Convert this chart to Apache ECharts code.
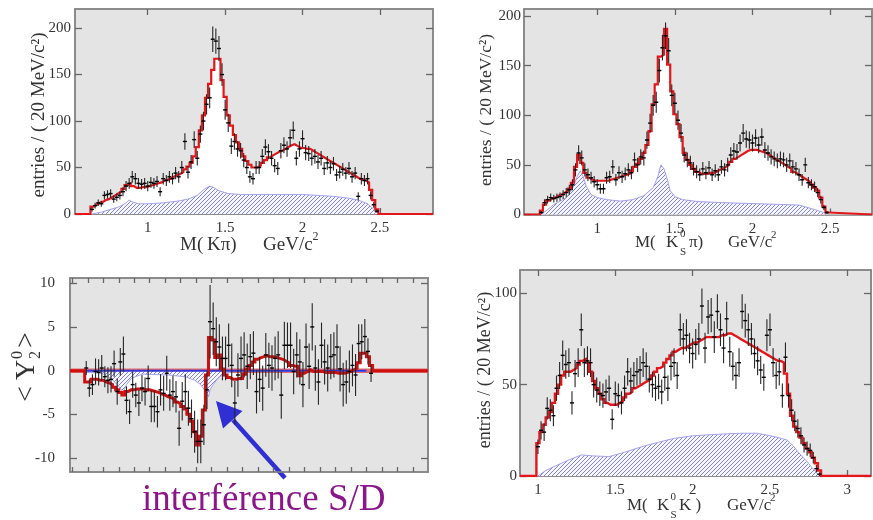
<!DOCTYPE html>
<html>
<head>
<meta charset="utf-8">
<script src="https://cdn.jsdelivr.net/npm/echarts@6/dist/echarts.min.js"></script>
<style>
  html, body { margin: 0; background: #fff; }
  #chart { width: 873px; height: 520px; }
</style>
</head>
<body>
<div id="chart"></div>
<script>
// all histograms use 20 MeV bins
const binW = 0.02

// top left: M(K pi), first bin starts at 0.63
const kpiStart = 0.63
const kpiData = [5, 9, 12, 11, 20, 21, 22, 16, 18, 20,
  24, 30, 33, 40, 38, 33, 32, 33, 30, 34,
  33, 35, 24, 38, 36, 40, 38, 44, 40, 50,
  78, 45, 56, 80, 60, 86, 100, 118, 125, 188,
  186, 178, 150, 112, 98, 73, 78, 70, 68, 58,
  50, 40, 38, 50, 50, 62, 72, 67, 60, 52,
  49, 68, 74, 70, 82, 90, 60, 70, 81, 66,
  65, 60, 62, 56, 60, 49, 55, 50, 54, 42,
  45, 48, 44, 49, 40, 44, 19, 38, 36, 38,
  20, 10, 3]
const kpiFit = [8, 10, 12, 13, 15, 16, 18, 20, 22, 24,
  27, 31, 33, 30, 28, 28, 29, 29, 30, 31,
  32, 33, 34, 36, 37, 38, 40, 42, 43, 45,
  48, 51, 55, 62, 72, 90, 106, 125, 140, 155,
  167, 167, 144, 126, 106, 95, 85, 77, 70, 62,
  57, 53, 50, 50, 52, 55, 58, 61, 63, 65,
  67, 68, 70, 72, 74, 75, 73, 71, 71, 70,
  70, 68, 66, 64, 62, 60, 58, 56, 54, 52,
  50, 48, 46, 44, 42, 40, 38, 37, 36, 34,
  26, 15, 5]
const kpiBgMass = [0.64, 0.70, 0.76, 0.82, 0.86, 0.88, 0.90, 0.94, 1.00, 1.10, 1.20, 1.26, 1.32, 1.36,
  1.40, 1.42, 1.46, 1.52, 1.60, 1.80, 2.00, 2.10, 2.20, 2.30, 2.36, 2.42, 2.46, 2.50]
const kpiBg = [0, 2, 5, 8, 12, 15, 13, 11, 11, 12, 14, 16, 20, 26,
  30, 29, 25, 22, 21, 21, 21, 20, 19, 17, 15, 11, 5, 0]

// top right: M(K0s pi)
const k0piStart = 0.63
const k0piData = [2, 12, 15, 17, 16, 17, 18, 20, 22, 25,
  30, 45, 62, 57, 45, 40, 37, 33, 30, 26,
  26, 37, 38, 48, 35, 42, 38, 41, 45, 42,
  55, 50, 58, 57, 75, 92, 110, 113, 145, 168,
  180, 165, 120, 112, 95, 82, 60, 55, 52, 46,
  43, 40, 46, 42, 47, 40, 44, 40, 48, 45,
  50, 60, 64, 63, 72, 82, 76, 75, 72, 77,
  70, 78, 65, 62, 58, 56, 54, 56, 55, 50,
  54, 48, 46, 40, 35, 50, 32, 30, 28, 22,
  15, 7, 2]
const k0piFit = [4, 10, 14, 16, 17, 19, 20, 22, 23, 26,
  32, 48, 60, 52, 42, 37, 35, 34, 34, 34,
  34, 34, 35, 36, 37, 38, 39, 40, 41, 44,
  48, 51, 56, 62, 70, 84, 111, 131, 159, 161,
  187, 151, 124, 101, 91, 78, 62, 55, 50, 46,
  43, 41, 41, 41, 42, 42, 43, 45, 46, 48,
  50, 53, 56, 58, 60, 62, 64, 65, 65, 65,
  64, 63, 62, 60, 58, 56, 54, 52, 50, 48,
  46, 43, 41, 39, 37, 35, 33, 30, 27, 24,
  17, 8, 2]
const k0piBgMass = [0.64, 0.72, 0.80, 0.84, 0.87, 0.89, 0.91, 0.93, 0.96, 1.00, 1.06, 1.15, 1.23, 1.30, 1.36,
  1.39, 1.41, 1.43, 1.45, 1.47, 1.50, 1.55, 1.65, 1.80, 2.00, 2.20, 2.30, 2.40, 2.46, 2.49]
const k0piBg = [0, 10, 17, 26, 38, 44, 38, 28, 20, 17, 15, 13.5, 15, 19, 27,
  38, 50, 46, 36, 24, 18, 15, 13, 12, 11, 10, 9.5, 5, 2, 0]

// bottom left: <Y02> moment vs M(K pi)
const y02Start = 0.63
const y02Data = [0.3, -2.0, -1.6, -0.1, -0.2, 0.3, -0.7, -1.1, -1.0, 0.8,
  -2.4, 1.0, 1.9, -3.4, -4.7, -1.6, -2.8, -3.7, -2.0, -2.4,
  -0.9, -4.1, -4.1, -4.7, -2.2, -2.6, -0.3, -2.8, -2.4, -3.0,
  -6.6, -3.5, -2.4, -4.3, -5.5, -7.0, -8.1, -8.1, -6.2, -2.2,
  5.6, 4.8, 3.3, 2.7, 1.4, 1.4, 2.9, 0.6, -3.7, -0.5,
  1.4, 1.8, 0.5, 1.6, 2.0, -2.4, -1.0, -2.0, 1.8, 0.6,
  0.3, 1.4, 1.8, -2.8, 2.9, 2.9, 2.9, -0.1, 1.8, 1.0,
  -1.6, 2.7, 0.5, 5.0, 0.3, -1.3, 2.9, 1.0, 0.3, 1.6,
  1.8, 2.7, 0.2, -1.6, -1.3, -0.1, 0.6, -0.5, 3.1, 3.3,
  3.9, 2.2, -0.3]
const y02Err = [0.8, 1.0, 1.2, 1.5, 1.5, 1.5, 1.2, 1.5, 1.5, 1.5,
  1.5, 1.6, 2.0, 1.6, 1.4, 1.5, 1.4, 1.5, 1.5, 1.6,
  1.5, 1.8, 1.8, 1.8, 1.8, 2.0, 2.0, 1.8, 1.8, 1.8,
  2.0, 2.2, 2.0, 2.0, 2.2, 2.4, 2.5, 2.5, 2.3, 2.2,
  4.2, 3.0, 2.8, 2.6, 2.5, 2.5, 2.5, 2.5, 2.5, 2.5,
  2.5, 2.6, 2.6, 2.6, 2.5, 2.5, 2.6, 2.6, 2.5, 2.6,
  2.6, 2.5, 2.7, 2.7, 2.7, 2.6, 2.6, 2.6, 2.6, 2.6,
  2.6, 2.7, 2.6, 2.7, 2.6, 2.6, 2.6, 2.6, 2.7, 2.6,
  2.6, 2.6, 2.6, 2.5, 2.5, 2.4, 2.4, 2.4, 2.2, 2.0,
  2.0, 1.5, 1.0]
const y02Fit = [-1.3, -1.3, -1.0, -1.0, -1.1, -1.1, -1.3, -1.4, -1.6, -1.9,
  -2.2, -2.5, -2.8, -2.4, -2.2, -2.2, -2.1, -2.1, -2.1, -2.2,
  -2.2, -2.3, -2.4, -2.5, -2.7, -2.8, -3.0, -3.1, -3.3, -3.6,
  -3.8, -4.1, -4.4, -5.0, -5.8, -7.0, -8.5, -7.5, -4.5, -0.5,
  3.8, 3.5, 1.5, 1.8, 0.2, -0.5, -0.8, -1.0, -1.0, -0.9,
  -0.9, -0.4, 0.2, 0.6, 1.0, 1.3, 1.5, 1.6, 1.7, 1.6,
  1.6, 1.5, 1.4, 1.3, 1.1, 0.9, 0.6, 0.5, 0.5, -0.6,
  -0.3, -0.1, 0.1, -0.1, -0.1, -0.1, -0.1, -0.2, -0.2, -0.2,
  -0.2, -0.3, -0.3, -0.3, -0.2, -0.1, 0.1, 0.3, 0.9, 2.0,
  2.0, 1.6, 0.6]
const y02BgMass = [0.64, 0.74, 0.80, 0.84, 0.88, 0.90, 0.93, 1.00, 1.17, 1.28, 1.34, 1.38, 1.41,
  1.43, 1.44, 1.46, 1.49, 1.53, 1.60, 2.00, 2.45]
const y02Bg = [-0.2, -0.3, -0.9, -1.6, -2.5, -1.6, -0.9, -0.4, -0.5, -0.7, -1.1, -1.6, -2.4,
  -3.0, -2.2, -1.6, -0.9, -0.3, -0.1, -0.1, -0.1]
const y02BgRange = [0.64, 2.45]

// bottom right: M(K0s K)
const k0kStart = 0.99
const k0kData = [16, 25, 24, 37, 36, 33, 48, 55, 66, 61,
  62, 40, 56, 62, 80, 62, 63, 62, 50, 47,
  45, 44, 46, 48, 31, 45, 44, 40, 48, 57,
  52, 55, 57, 58, 62, 60, 53, 50, 48, 49,
  46, 54, 48, 60, 62, 55, 80, 75, 77, 70,
  67, 72, 75, 93, 70, 87, 88, 76, 90, 80,
  70, 86, 68, 60, 55, 62, 90, 85, 80, 75,
  67, 63, 58, 54, 77, 80, 62, 55, 57, 44,
  65, 44, 36, 30, 26, 22, 17, 15, 14, 10,
  4, 1]
const k0kFit = [18, 24, 28, 32, 35, 40, 45, 50, 55, 57,
  57, 58, 59, 61, 63, 64, 62, 57, 52, 48,
  45, 42, 40, 39, 39, 39, 40, 41, 43, 45,
  46, 48, 49, 50, 51, 52, 53, 55, 57, 59,
  60, 62, 64, 66, 68, 69, 70, 70, 71, 72,
  73, 73, 74, 75, 76, 76, 76, 76, 76, 77,
  77, 78, 78, 77, 76, 75, 74, 73, 72, 71,
  70, 69, 68, 67, 66, 65, 64, 63, 63, 62,
  56, 45, 33, 27, 24, 21, 18, 15, 13, 10,
  7, 3]
const k0kBgMass = [1.00, 1.05, 1.10, 1.20, 1.28, 1.36, 1.46, 1.56, 1.67, 1.78, 1.88, 2.00,
  2.10, 2.20, 2.31, 2.42, 2.53, 2.61, 2.65, 2.68, 2.74, 2.785, 2.82]
const k0kBg = [0, 3, 5, 8.8, 11.5, 11, 10.6, 13, 16, 18.5, 20.6, 22,
  22.5, 23, 23.4, 23.4, 21.5, 19.7, 16.5, 13.3, 7.8, 3.3, 0]

// tick positions and labels
const massTicks = [1, 1.5, 2, 2.5]
const massTicksK = [1, 1.5, 2, 2.5, 3]
const entriesTicks = [0, 50, 100, 150, 200]
const entriesTicksK = [0, 50, 100]
const y02Ticks = [-10, -5, 0, 5, 10]
const minorTicks = []
for (let t = 0.55; t < 2.85; t += 0.1) minorTicks.push(+t.toFixed(2))

const serif = '"Liberation Serif", "Times New Roman", serif'
const txtColor = '#333'
const frameColor = '#858585'

function hatchPattern() {
  const c = document.createElement('canvas')
  c.width = 4
  c.height = 4
  const ctx = c.getContext('2d')
  ctx.fillStyle = '#f7f7ff'
  ctx.fillRect(0, 0, 4, 4)
  ctx.strokeStyle = '#8282e2'
  ctx.lineWidth = 1
  ctx.beginPath()
  ctx.moveTo(0, 4); ctx.lineTo(4, 0)
  ctx.moveTo(-1, 1); ctx.lineTo(1, -1)
  ctx.moveTo(3, 5); ctx.lineTo(5, 3)
  ctx.stroke()
  return c
}
const hatch = hatchPattern()

// histogram outline as a polyline, zero outside the fitted range
function steps(start, vals, xmin, xmax) {
  const pts = [[xmin, 0], [start, 0]]
  vals.forEach((v, i) => {
    pts.push([start + i * binW, v], [start + (i + 1) * binW, v])
  })
  pts.push([start + vals.length * binW, 0], [xmax, 0])
  return pts
}
function points(start, vals, errs) {
  return vals.map((v, i) => [start + (i + 0.5) * binW, v, errs ? errs[i] : Math.sqrt(Math.max(v, 1))])
}
function pairs(xs, ys) {
  return xs.map((x, i) => [x, ys[i]])
}

function errorBar(params, api) {
  const x = api.value(0), y = api.value(1), e = api.value(2)
  const c = api.coord([x, y])
  const hi = api.coord([x, y + e])
  const lo = api.coord([x, y - e])
  return {
    type: 'group',
    children: [
      { type: 'line', shape: { x1: c[0], y1: hi[1], x2: c[0], y2: lo[1] }, style: { stroke: '#262626', lineWidth: 1.1 } },
      { type: 'line', shape: { x1: c[0] - 2, y1: c[1], x2: c[0] + 2, y2: c[1] }, style: { stroke: '#000', lineWidth: 1.4 } }
    ]
  }
}

const panels = [
  { grid: { left: 75, top: 9, width: 358, height: 205 }, x: [0.53, 2.843], y: [0, 220.5],
    xTicks: massTicks, xLabels: massTicks, xTickLen: 6, yTicks: entriesTicks, yMargin: 4,
    start: kpiStart, data: kpiData, fit: kpiFit, bgX: kpiBgMass, bgY: kpiBg,
    red: '#e3161b', redW: 2.2 },
  { grid: { left: 524, top: 9, width: 348, height: 205.5 }, x: [0.528, 2.77], y: [0, 207],
    xTicks: massTicks, xLabels: massTicks, xTickLen: 6, yTicks: entriesTicks, yMargin: 3,
    start: k0piStart, data: k0piData, fit: k0piFit, bgX: k0piBgMass, bgY: k0piBg,
    red: '#e3161b', redW: 2.2 },
  { grid: { left: 70, top: 278, width: 358, height: 194 }, x: [0.535, 2.848], y: [-11.6, 10.6],
    xTicks: minorTicks, xLabels: [], xTickLen: 5, yTicks: y02Ticks, yMargin: 15,
    start: y02Start, data: y02Data, err: y02Err, fit: y02Fit, bgX: y02BgMass, bgY: y02Bg,
    red: '#cf1010', redW: 3, moment: true },
  { grid: { left: 520, top: 270, width: 351, height: 206 }, x: [0.884, 3.153], y: [0, 112.7],
    xTicks: massTicksK, xLabels: massTicksK, xTickLen: 6, yTicks: entriesTicksK, yMargin: 3,
    start: k0kStart, data: k0kData, fit: k0kFit, bgX: k0kBgMass, bgY: k0kBg,
    red: '#e3161b', redW: 2.4 }
]

const grids = [], xAxes = [], yAxes = [], series = []
panels.forEach((p, g) => {
  grids.push({ ...p.grid, show: true, backgroundColor: '#e4e4e4', borderColor: frameColor, borderWidth: 1.5 })
  const tick = (vals, len) => ({ show: true, inside: true, length: len, customValues: vals,
    lineStyle: { color: '#666', width: 1.3 } })
  const label = (vals, margin) => ({ show: vals.length > 0, customValues: vals, margin: margin,
    color: txtColor, fontFamily: serif, fontSize: 15 })
  const common = { type: 'value', gridIndex: g, splitLine: { show: false },
    axisLine: { show: true, onZero: false, lineStyle: { color: frameColor, width: 1.5 } } }
  xAxes.push(
    { ...common, min: p.x[0], max: p.x[1], position: 'bottom',
      axisTick: tick(p.xTicks, p.xTickLen), axisLabel: label(p.xLabels, 7) },
    { ...common, min: p.x[0], max: p.x[1], position: 'top',
      axisTick: tick(p.xTicks, p.xTickLen), axisLabel: { show: false } }
  )
  yAxes.push(
    { ...common, min: p.y[0], max: p.y[1], position: 'left',
      axisTick: tick(p.yTicks, 7), axisLabel: label(p.yTicks, p.yMargin) },
    { ...common, min: p.y[0], max: p.y[1], position: 'right',
      axisTick: tick(p.yTicks, 7), axisLabel: { show: false } }
  )
  const ax = { xAxisIndex: 2 * g, yAxisIndex: 2 * g }
  const fitPts = steps(p.start, p.fit, p.x[0], p.x[1])
  series.push({ ...ax, type: 'line', data: fitPts, symbol: 'none', silent: true,
    lineStyle: { opacity: 0 }, areaStyle: { color: '#fff', opacity: 1 }, z: 2 })
  if (p.moment) {
    series.push({ ...ax, type: 'line', data: [[p.x[0], 0], [p.x[1], 0]], symbol: 'none', silent: true,
      lineStyle: { color: '#e06c6c', width: 4.5 }, z: 3 })
  }
  series.push({ ...ax, type: 'line', data: pairs(p.bgX, p.bgY), symbol: 'none', silent: true,
    lineStyle: { color: '#a4a4ec', width: 1 },
    areaStyle: { color: { image: hatch, repeat: 'repeat' }, opacity: 1 }, z: 4 })
  if (p.moment) {
    series.push({ ...ax, type: 'line', data: [[y02BgRange[0], 0], [y02BgRange[1], 0]], symbol: 'none', silent: true,
      lineStyle: { color: '#3434d6', width: 2 }, z: 4 })
  }
  series.push({ ...ax, type: 'line', data: fitPts, symbol: 'none', silent: true,
    lineStyle: { color: p.red, width: p.redW, join: 'miter' }, z: 5 })
  series.push({ ...ax, type: 'custom', data: points(p.start, p.data, p.err), renderItem: errorBar,
    encode: { x: 0, y: 1 }, silent: true, clip: true, z: 6 })
})

function txt(x, y, s, size, extra) {
  return { type: 'text', x: x, y: y, silent: true, ...extra,
    style: { text: s, font: size + 'px ' + serif, fill: txtColor, textAlign: 'left', textVerticalAlign: 'middle' } }
}
function yName(x, y, s, size) {
  return { type: 'text', x: x, y: y, rotation: Math.PI / 2, silent: true,
    style: { text: s, font: size + 'px ' + serif, fill: txtColor, textAlign: 'center', textVerticalAlign: 'middle' } }
}

const graphic = [
  // axis titles
  yName(39, 115, 'entries / ( 20 MeV/c²)', 19),
  yName(486, 110, 'entries / ( 20 MeV/c²)', 17.5),
  yName(485, 370, 'entries / ( 20 MeV/c²)', 18),
  txt(180, 245, 'M(', 19), txt(207, 245, 'Kπ)', 19), txt(263, 245, 'GeV/c', 19), txt(312.5, 237, '2', 12),
  txt(635, 243, 'M(', 17), txt(666, 243, 'K', 17), txt(680, 234, '0', 11), txt(680, 252, 'S', 11),
  txt(689, 243, 'π)', 17), txt(728, 243, 'GeV/c', 17), txt(771, 235, '2', 11),
  txt(627, 506, 'M(', 17), txt(657, 506, 'K', 17), txt(670.5, 497, '0', 11), txt(670.5, 515, 'S', 11),
  txt(679, 506, 'K )', 17), txt(727, 506, 'GeV/c', 17), txt(770, 498, '2', 11),
  { type: 'group', x: 25, y: 367, rotation: Math.PI / 2, children: [
    txt(-35, 2, '<', 28), txt(-13, 2, 'Y', 28), txt(8, -7, '0', 16), txt(8, 11, '2', 16), txt(19, 2, '>', 28)
  ] },
  // annotation arrow and label
  { type: 'line', silent: true, shape: { x1: 285, y1: 478, x2: 233, y2: 420 },
    style: { stroke: '#2f2fd4', lineWidth: 4.5 } },
  { type: 'polygon', silent: true, shape: { points: [[216, 401], [242.5, 411], [223, 428.5]] },
    style: { fill: '#2f2fd4' } },
  { type: 'text', x: 142, y: 500, silent: true,
    style: { text: 'interférence S/D', font: '37px ' + serif, fill: '#8a168a', textAlign: 'left', textVerticalAlign: 'middle' } }
]

const chart = echarts.init(document.getElementById('chart'))
chart.setOption({
  animation: false,
  backgroundColor: '#fff',
  grid: grids,
  xAxis: xAxes,
  yAxis: yAxes,
  series: series,
  graphic: graphic
})
</script>
</body>
</html>
